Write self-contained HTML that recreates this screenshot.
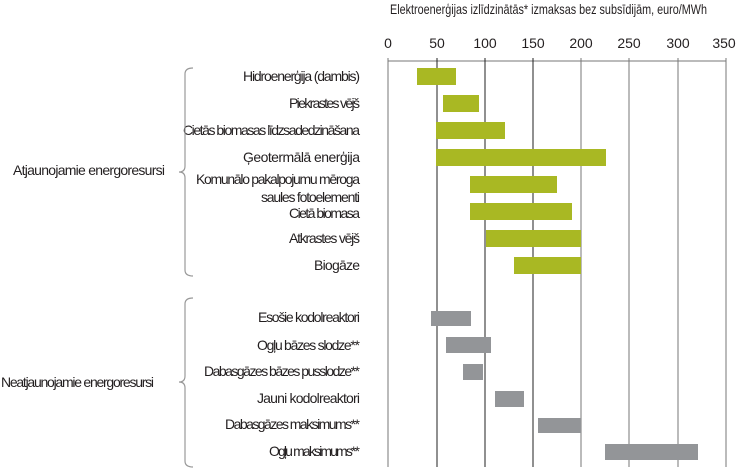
<!DOCTYPE html>
<html><head><meta charset="utf-8"><style>
html,body{margin:0;padding:0;background:#fff;}
svg text{font-family:"Liberation Sans Narrow","Liberation Sans",sans-serif;fill:#231f20;}
</style></head><body>
<svg width="737" height="471" viewBox="0 0 737 471" xmlns="http://www.w3.org/2000/svg">
<text x="390" y="14" font-size="14" textLength="317" lengthAdjust="spacingAndGlyphs">Elektroenerģijas izlīdzinātās* izmaksas bez subsīdijām, euro/MWh</text>
<g font-size="14" text-anchor="middle">
<text x="388" y="48">0</text><text x="437" y="48">50</text><text x="485" y="48">100</text><text x="533" y="48">150</text>
<text x="581" y="48">200</text><text x="629" y="48">250</text><text x="678" y="48">300</text><text x="724" y="48">350</text>
</g>
<line x1="388" y1="61" x2="726" y2="61" stroke="#777" stroke-width="1"/>
<g stroke="#777" stroke-width="1">
<line x1="388" y1="58" x2="388" y2="467"/><line x1="581" y1="58" x2="581" y2="467"/>
<line x1="629" y1="58" x2="629" y2="467"/><line x1="678" y1="58" x2="678" y2="467"/><line x1="726" y1="58" x2="726" y2="467"/>
</g>
<g stroke="#222" stroke-width="1">
<line x1="437" y1="58" x2="437" y2="467"/><line x1="485" y1="58" x2="485" y2="467"/><line x1="533" y1="58" x2="533" y2="467"/>
</g>
<g fill="#a9b823">
<rect x="417" y="68" width="39" height="17"/>
<rect x="443" y="95" width="36" height="17"/>
<rect x="436" y="122" width="69" height="17"/>
<rect x="436" y="149" width="170" height="17"/>
<rect x="470" y="176" width="87" height="17"/>
<rect x="470" y="203" width="102" height="17"/>
<rect x="486" y="230" width="95" height="17"/>
<rect x="514" y="257" width="67" height="17"/>
</g>
<g fill="#939598">
<rect x="431" y="311" width="40" height="15"/>
<rect x="446" y="337" width="45" height="16"/>
<rect x="463" y="364" width="20" height="16"/>
<rect x="495" y="391" width="29" height="16"/>
<rect x="538" y="418" width="43" height="15"/>
<rect x="605" y="444" width="93" height="16"/>
</g>
<g font-size="14" lengthAdjust="spacingAndGlyphs">
<text x="243" y="81" textLength="117">Hidroenerģija (dambis)</text>
<text x="289" y="108" textLength="71">Piekrastes vējš</text>
<text x="183" y="135" textLength="177">Cietās biomasas līdzsadedzināšana</text>
<text x="243" y="162" textLength="117">Ģeotermālā enerģija</text>
<text x="196" y="184" textLength="164">Komunālo pakalpojumu mēroga</text>
<text x="261" y="202" textLength="99">saules fotoelementi</text>
<text x="289" y="218" textLength="71">Cietā biomasa</text>
<text x="289" y="243" textLength="71">Atkrastes vējš</text>
<text x="314" y="270" textLength="46">Biogāze</text>
<text x="258" y="322" textLength="102">Esošie kodolreaktori</text>
<text x="257" y="350" textLength="103">Ogļu bāzes slodze**</text>
<text x="204" y="376" textLength="156">Dabasgāzes bāzes pusslodze**</text>
<text x="257" y="403" textLength="103">Jauni kodolreaktori</text>
<text x="225" y="429" textLength="135">Dabasgāzes maksimums**</text>
<text x="269" y="456" textLength="91">Ogļu maksimums**</text>
<text x="13" y="175" textLength="152">Atjaunojamie energoresursi</text>
<text x="1" y="387" textLength="153">Neatjaunojamie energoresursi</text>
</g>
<g fill="none" stroke="#999" stroke-width="1.2">
<path d="M193,68 Q185,68 185,74 L185,166 Q185,172 179,172 Q185,172 185,178 L185,270 Q185,276 193,276"/>
<path d="M193,298 Q185,298 185,304 L185,376 Q185,382 179,382 Q185,382 185,388 L185,461 Q185,467 193,467"/>
</g>
</svg>
</body></html>
